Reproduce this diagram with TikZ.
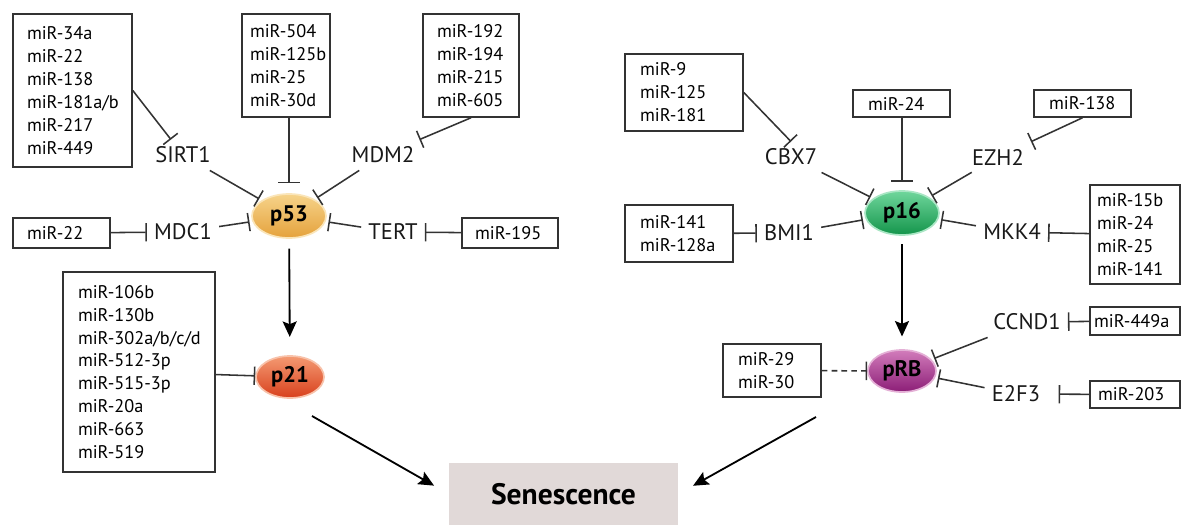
\documentclass[tikz,border=0pt]{standalone}
\usepackage{fontspec}
\setmainfont{PT Sans}
\usepackage{xcolor}
\usetikzlibrary{shapes.geometric,arrows.meta,positioning}

\definecolor{linegray}{HTML}{333333}
\definecolor{senfill}{HTML}{E1D9D8}
\definecolor{ptop}{HTML}{F6D38A}
\definecolor{pbot}{HTML}{E5A23C}
\definecolor{rtop}{HTML}{F49A72}
\definecolor{rbot}{HTML}{D8401D}
\definecolor{gtop}{HTML}{6FD69C}
\definecolor{gbot}{HTML}{14954B}
\definecolor{vtop}{HTML}{D27CBB}
\definecolor{vbot}{HTML}{8C1E77}
\newcommand\mirsize{\fontsize{13}{16.3}\selectfont\exhyphenpenalty=10000\hyphenpenalty=10000}
\newcommand\genesize{\fontsize{16}{19}\selectfont}
\newcommand\protsize{\fontsize{16}{18}\selectfont}
\newcommand\sensize{\fontsize{21}{24}\selectfont}

\begin{document}
\begin{tikzpicture}[
    x=0.025cm, y=-0.025cm,
    wh/.style 2 args={minimum width=#1*0.025cm, minimum height=#2*0.025cm},
    mir/.style n args={3}{rectangle, draw=linegray, line width=1.1pt, align=left, font=\mirsize,
        inner xsep=#3*0.025cm, inner ysep=2pt, wh={#1}{#2}, text width=(#1-2*#3)*0.025cm},
    gene/.style={font=\genesize, text=black!90, inner sep=5pt},
    prot/.style 2 args={ellipse, top color=#1, bottom color=#2, draw=#1!60!white, line width=1.2pt, font=\bfseries\protsize, inner sep=0pt},
    inh/.style={-{Bar[width=13pt]}, line width=1.1pt, draw=linegray},
    arrow/.style={-{Stealth[length=11pt,width=10pt,inset=2pt]}, line width=1.3pt},
]
    \useasboundingbox[fill=white] (0,0) rectangle (1182,525);

    % p53 branch
    \node[prot={ptop}{pbot}, wh={74}{44}] (p53) at (289,216) {p53};
    \node[prot={rtop}{rbot}, wh={68}{42}] (p21) at (290,377) {p21};
    \node[gene] (sirt1) at (183,155) {SIRT1};
    \node[gene] (mdm2) at (383,155) {MDM2};
    \node[gene] (mdc1) at (183,232) {MDC1};
    \node[gene] (tert) at (393,232) {TERT};
    \node[mir={119}{153}{14}] (mir34) at (72.5,90.5) {miR-34a\\miR-22\\miR-138\\miR-181a/b\\miR-217\\miR-449};
    \node[mir={88}{103}{8}] (mir504) at (286,65.5) {miR-504\\miR-125b\\miR-25\\miR-30d};
    \node[mir={96}{103}{14}] (mir192) at (471,65.5) {miR-192\\miR-194\\miR-215\\miR-605};
    \node[mir={97}{30}{14}] (mir22) at (61.5,233) {miR-22};
    \node[mir={96}{30}{13}] (mir195) at (510,233) {miR-195};
    \node[mir={152}{200}{15}] (mir106) at (139,372) {miR-106b\\miR-130b\\miR-302a/b/c/d\\miR-512-3p\\miR-515-3p\\miR-20a\\miR-663\\miR-519};

    % p16 branch
    \node[prot={gtop}{gbot}, wh={74}{44}] (p16) at (902,213) {p16};
    \node[prot={vtop}{vbot}, wh={68}{42}] (prb) at (902,371) {pRB};
    \node[gene] (cbx7) at (791,157) {CBX7};
    \node[gene] (bmi1) at (789,233) {BMI1};
    \node[gene] (ezh2) at (998,157) {EZH2};
    \node[gene] (mkk4) at (1012,232) {MKK4};
    \node[gene] (ccnd1) at (1027,322) {CCND1};
    \node[gene] (e2f3) at (1016,394) {E2F3};
    \node[mir={118}{77}{15}] (mir9) at (684,92.5) {miR-9\\miR-125\\miR-181};
    \node[mir={97}{27}{15}] (mir24) at (901.5,103.5) {miR-24};
    \node[mir={97}{27}{15}] (mir138) at (1082.5,103.5) {miR-138};
    \node[mir={108}{57}{15}] (mir141) at (679,233.5) {miR-141\\miR-128a};
    \node[mir={90}{99}{7}] (mir15b) at (1135,234.5) {miR-15b\\miR-24\\miR-25\\miR-141};
    \node[mir={90}{28}{4}] (mir449a) at (1135,321) {miR-449a};
    \node[mir={90}{27}{8}] (mir203) at (1135,394.5) {miR-203};
    \node[mir={98}{53}{15}] (mir29) at (772,370.5) {miR-29\\miR-30};

    \node[fill=senfill, wh={229}{62}, font=\bfseries\sensize] (sen) at (563.5,494) {Senescence};
    \coordinate (p21out) at (312,416);
    \coordinate (prbout) at (816,417);

    % inhibitions
    \draw[inh] (mir34.east) -- (sirt1);
    \draw[inh, -{Bar[width=15pt]}, shorten >=7pt] (mir504.south -| p53) -- (p53);
    \draw[inh] (mir192.south) -- (mdm2);
    \draw[inh] (mir22) -- (mdc1);
    \draw[inh] (mir195) -- (tert);
    \draw[inh, shorten >=2pt] (sirt1) -- (p53);
    \draw[inh, shorten >=2pt] (mdm2) -- (p53);
    \draw[inh, shorten >=2pt] (mdc1) -- (p53);
    \draw[inh, shorten >=2pt] (tert) -- (p53);
    \draw[inh] (mir106) -- (p21);

    \draw[inh] (mir9.east) -- (cbx7.north);
    \draw[inh, -{Bar[width=15pt]}, shorten >=6pt] (mir24.south -| p16) -- (p16);
    \draw[inh] (mir138.south) -- (ezh2);
    \draw[inh] (mir141) -- (bmi1);
    \draw[inh] (mir15b) -- (mkk4);
    \draw[inh] (mir449a) -- (ccnd1);
    \draw[inh, shorten >=8pt] (mir203) -- (e2f3);
    \draw[inh, shorten >=2pt] (cbx7) -- (p16);
    \draw[inh, shorten >=2pt] (bmi1) -- (p16);
    \draw[inh, shorten >=2pt] (ezh2) -- (p16);
    \draw[inh, shorten >=2pt] (mkk4) -- (p16);
    \draw[inh, shorten >=2pt] (ccnd1) -- (prb);
    \draw[inh, shorten >=2pt] (e2f3) -- (prb);
    \draw[inh, dash pattern=on 4pt off 3pt] (mir29) -- (prb);

    % activations
    \draw[arrow, shorten <=7pt, shorten >=13pt] (p53) -- (p21);
    \draw[arrow, shorten <=6pt, shorten >=9pt] (p16) -- (prb);
    \draw[arrow, shorten >=12pt] (p21out) -- (sen.west);
    \draw[arrow, shorten >=12pt] (prbout) -- (sen.east);
\end{tikzpicture}
\end{document}
